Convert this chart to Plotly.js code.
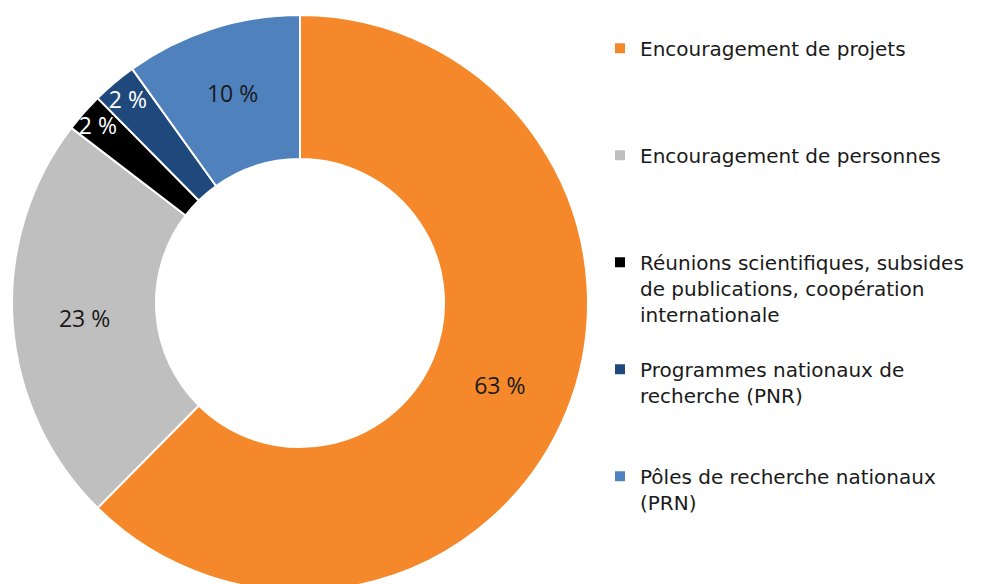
<!DOCTYPE html>
<html>
<head>
<meta charset="utf-8">
<script src="https://cdn.plot.ly/plotly-3.0.1.min.js"></script>
<style>
html,body{margin:0;padding:0;overflow:hidden;background:#fff;}
#chart{width:988px;height:591px;}
</style>
</head>
<body>
<div id="chart"></div>
<script>
// Data
const categories = [
  "Encouragement de projets",
  "Encouragement de personnes",
  "Réunions scientifiques, subsides<br>de publications, coopération<br>internationale",
  "Programmes nationaux de<br>recherche (PNR)",
  "Pôles de recherche nationaux<br>(PRN)"
];
const shares = [62.4, 23.0, 2.2, 2.5, 9.9];
const shareLabels = ["63 %", "23 %", "2 %", "2 %", "10 %"];
const colors = ["#F5882A", "#BFBFBF", "#000000", "#1F497D", "#4F81BD"];
const labelColors = ["#1a1a1a", "#1a1a1a", "#ffffff", "#ffffff", "#1a1a1a"];

// trailing padding lines so legend entries are evenly spaced
const after = [3, 3, 1, 2, 2];
const B = "\u00a0";
const legendNames = categories.map((c, i) =>
  [c].concat(Array(after[i]).fill(B)).join("<br>")
);

const trace = {
  type: "pie",
  labels: legendNames,
  values: shares,
  text: shareLabels,
  textinfo: "text",
  textposition: "inside",
  insidetextorientation: "horizontal",
  insidetextfont: {family: "Open Sans, sans-serif", size: 23, color: labelColors},
  hole: 0.5,
  sort: false,
  direction: "clockwise",
  rotation: 0,
  marker: {colors: colors, line: {color: "#ffffff", width: 2}},
  domain: {x: [12/988, 588/988], y: [0, 1]},
  hoverinfo: "none"
};

const layout = {
  width: 988,
  height: 591,
  margin: {l: 0, r: 0, t: 15, b: 0},
  paper_bgcolor: "#ffffff",
  showlegend: true,
  legend: {
    x: 600/988, xanchor: "left",
    y: 0.976, yanchor: "top",
    valign: "top",
    font: {family: "DejaVu Sans, Verdana, sans-serif", size: 20, color: "#1a1a1a"},
    bgcolor: "rgba(0,0,0,0)"
  },
  uniformtext: {minsize: 23, mode: "show"}
};

Plotly.newPlot("chart", [trace], layout, {displayModeBar: false, staticPlot: true});
</script>
</body>
</html>
